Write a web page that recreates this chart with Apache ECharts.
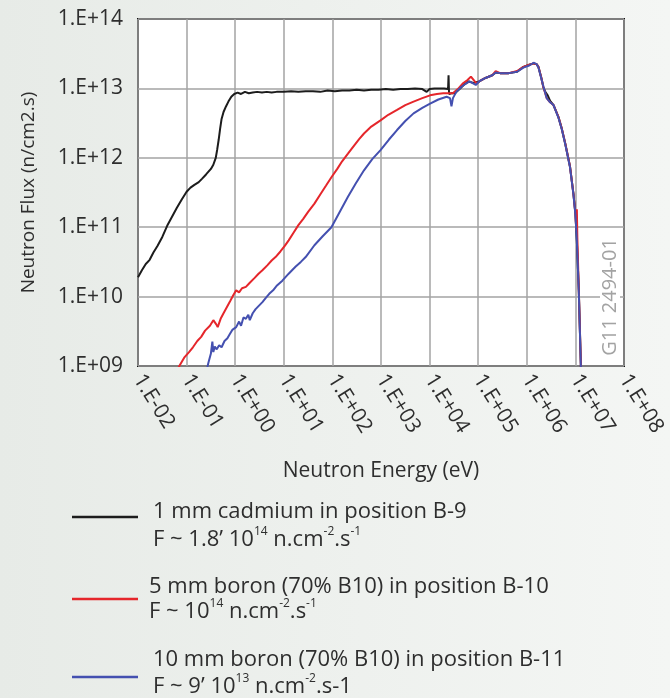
<!DOCTYPE html>
<html>
<head>
<meta charset="utf-8">
<script src="https://cdn.jsdelivr.net/npm/echarts@6/dist/echarts.min.js"></script>
<style>
  html, body { margin: 0; padding: 0; }
  body { width: 670px; height: 698px; background: linear-gradient(to right, #e7ebe7, #f4f6f4); }
  #chart { width: 670px; height: 698px; }
</style>
</head>
<body>
<div id="chart"></div>
<script>
// ---- Data (log10 of energy in eV, log10 of flux in n/cm2.s) ----
const xTickLabels = ['1.E-02','1.E-01','1.E+00','1.E+01','1.E+02','1.E+03','1.E+04','1.E+05','1.E+06','1.E+07','1.E+08'];
const yTickLabels = ['1.E+09','1.E+10','1.E+11','1.E+12','1.E+13','1.E+14'];
const seriesNames = ['1 mm cadmium in position B-9', '5 mm boron (70% B10) in position B-10', '10 mm boron (70% B10) in position B-11'];

const cadmiumLogE = [-2.00,-1.92,-1.84,-1.76,-1.68,-1.60,-1.50,-1.40,-1.30,-1.20,-1.10,-1.00,-0.92,-0.84,-0.75,-0.68,-0.60,-0.55,-0.50,-0.45,-0.40,-0.37,-0.34,-0.31,-0.28,-0.24,-0.19,-0.14,-0.08,-0.02,0.05,0.12,0.20,0.28,0.36,0.45,0.55,0.65,0.75,0.85,1.00,1.15,1.30,1.45,1.60,1.75,1.90,2.05,2.20,2.35,2.50,2.65,2.80,2.95,3.10,3.25,3.40,3.55,3.70,3.85,3.94,4.00,4.10,4.20,4.30,4.38,4.39,4.40,4.45,4.52,4.60,4.70,4.80,4.90,5.02,5.15,5.29,5.36,5.45,5.63,5.80,5.93,6.05,6.14,6.20,6.24,6.30,6.34,6.38,6.43,6.48,6.55,6.65,6.72,6.79,6.89,6.96,7.00,7.03,7.07,7.11,7.13];
const cadmiumLogFlux = [10.28,10.38,10.47,10.53,10.64,10.73,10.86,11.02,11.15,11.28,11.40,11.51,11.57,11.61,11.65,11.70,11.76,11.80,11.84,11.90,12.00,12.12,12.26,12.42,12.56,12.66,12.74,12.81,12.88,12.92,12.94,12.92,12.95,12.93,12.94,12.95,12.94,12.95,12.94,12.95,12.95,12.96,12.95,12.96,12.96,12.95,12.97,12.96,12.97,12.97,12.98,12.97,12.98,12.98,12.99,12.98,12.99,12.99,13.00,12.99,12.95,12.99,13.00,13.00,13.00,12.99,13.19,12.92,12.93,12.93,12.98,13.05,13.10,13.08,13.10,13.15,13.19,13.23,13.22,13.22,13.24,13.31,13.34,13.36,13.35,13.31,13.15,13.02,12.95,12.90,12.82,12.76,12.59,12.42,12.21,11.87,11.48,11.20,10.81,10.09,9.08,8.60];

const boron5LogE = [-1.25,-1.15,-1.05,-0.95,-0.87,-0.78,-0.70,-0.62,-0.52,-0.45,-0.42,-0.39,-0.36,-0.30,-0.24,-0.17,-0.10,-0.04,0.02,0.08,0.14,0.22,0.30,0.40,0.48,0.56,0.66,0.75,0.83,0.93,1.02,1.10,1.20,1.30,1.40,1.50,1.63,1.75,1.87,1.98,2.10,2.20,2.32,2.45,2.55,2.65,2.80,2.99,3.15,3.33,3.50,3.67,3.85,4.01,4.15,4.28,4.40,4.48,4.58,4.68,4.78,4.85,4.89,4.93,4.97,5.02,5.15,5.29,5.36,5.39,5.45,5.63,5.80,5.93,6.05,6.14,6.20,6.24,6.30,6.34,6.41,6.48,6.55,6.65,6.72,6.79,6.89,6.96,7.00,7.02,7.03,7.04,7.07,7.11,7.13];
const boron5LogFlux = [8.85,9.00,9.12,9.20,9.27,9.36,9.42,9.51,9.58,9.66,9.68,9.60,9.56,9.68,9.76,9.85,9.94,10.02,10.09,10.06,10.12,10.14,10.20,10.27,10.33,10.38,10.45,10.52,10.57,10.65,10.73,10.81,10.92,11.03,11.12,11.22,11.34,11.47,11.60,11.72,11.84,11.95,12.06,12.18,12.27,12.35,12.45,12.54,12.62,12.69,12.76,12.81,12.86,12.90,12.92,12.93,12.93,12.93,12.99,13.07,13.12,13.17,13.19,13.10,13.07,13.10,13.15,13.19,13.25,13.26,13.22,13.22,13.25,13.31,13.34,13.36,13.35,13.31,13.15,13.02,12.86,12.80,12.76,12.59,12.42,12.21,11.87,11.48,11.20,10.95,11.26,10.85,10.09,9.08,8.60];

const boron10LogE = [-0.62,-0.55,-0.50,-0.47,-0.45,-0.42,-0.38,-0.33,-0.28,-0.22,-0.16,-0.11,-0.06,0.02,0.08,0.12,0.17,0.22,0.27,0.30,0.36,0.42,0.49,0.56,0.63,0.70,0.78,0.86,0.97,1.10,1.24,1.35,1.45,1.63,1.80,1.98,2.15,2.32,2.48,2.65,2.82,2.99,3.16,3.33,3.50,3.67,3.85,4.01,4.18,4.35,4.42,4.45,4.48,4.55,4.65,4.75,4.82,4.95,5.02,5.15,5.29,5.36,5.45,5.63,5.80,5.93,6.05,6.14,6.20,6.24,6.30,6.34,6.41,6.48,6.55,6.65,6.72,6.79,6.89,6.96,7.00,7.03,7.07,7.11,7.13];
const boron10LogFlux = [8.85,9.05,9.18,9.35,9.20,9.28,9.24,9.30,9.27,9.36,9.40,9.46,9.52,9.56,9.64,9.58,9.70,9.68,9.74,9.66,9.76,9.82,9.87,9.92,9.98,10.04,10.09,10.16,10.23,10.33,10.43,10.50,10.57,10.74,10.87,11.00,11.22,11.44,11.63,11.82,11.98,12.11,12.26,12.40,12.53,12.64,12.72,12.78,12.84,12.88,12.86,12.74,12.86,12.95,13.02,13.07,13.10,13.05,13.10,13.15,13.19,13.23,13.22,13.22,13.24,13.30,13.33,13.37,13.35,13.30,13.14,13.03,12.86,12.80,12.76,12.58,12.41,12.20,11.86,11.47,11.18,10.80,10.07,9.05,8.55];

// ---- helpers ----
const toPairs = (le, lf) => le.map((e, i) => [Math.pow(10, e), Math.pow(10, lf[i])]);
const decade = v => Math.round(Math.log10(v));

const FONT = "'Open Sans', 'Noto Sans', sans-serif";
const TXT = '#2e2e2e';
const colors = ['#1c1c1c', '#e5262b', '#4450b0'];

const chart = echarts.init(document.getElementById('chart'), null, { renderer: 'canvas' });

const supRich = {
  t: { fontSize: 22, lineHeight: 28, fontFamily: FONT, color: TXT },
  s: { fontSize: 12, lineHeight: 12, fontFamily: FONT, color: TXT, verticalAlign: 'top' }
};

function legendLine(y, color) {
  return { type: 'line', shape: { x1: 72, y1: y, x2: 138, y2: y }, style: { stroke: color, lineWidth: 2.5 }, silent: true };
}
function legendText(x, y, text, rich) {
  return { type: 'text', x: x, y: y, silent: true,
    style: { text: text, rich: rich, font: '22px ' + FONT, fill: TXT, align: 'left', verticalAlign: 'middle' } };
}

chart.setOption({
  backgroundColor: 'transparent',
  animation: false,
  textStyle: { fontFamily: FONT },
  grid: { left: 138, right: 46, top: 19, bottom: 332, show: true, backgroundColor: '#ffffff', borderColor: '#111', borderWidth: 2 },
  xAxis: {
    type: 'log', logBase: 10, min: 0.01, max: 1e8, interval: 1,
    name: 'Neutron Energy (eV)', nameLocation: 'middle', nameGap: 95,
    nameTextStyle: { fontSize: 21, color: TXT, fontFamily: FONT },
    axisLine: { show: false }, axisTick: { show: false },
    minorTick: { show: false }, minorSplitLine: { show: false },
    splitLine: { show: true, lineStyle: { color: '#a3a3a3', width: 1.5 } },
    axisLabel: { rotate: -58, margin: 10, fontSize: 21, color: TXT, fontFamily: FONT,
      showMinLabel: true, showMaxLabel: true,
      formatter: v => xTickLabels[decade(v) + 2] }
  },
  yAxis: {
    type: 'log', logBase: 10, min: 1e9, max: 1e14, interval: 1,
    name: 'Neutron Flux (n/cm2.s)', nameLocation: 'middle', nameGap: 100,
    nameTextStyle: { fontSize: 19, color: TXT, fontFamily: FONT },
    axisLine: { show: false }, axisTick: { show: false },
    minorTick: { show: false }, minorSplitLine: { show: false },
    splitLine: { show: true, lineStyle: { color: '#a3a3a3', width: 1.5 } },
    axisLabel: { margin: 15, fontSize: 21, color: TXT, fontFamily: FONT,
      showMinLabel: true, showMaxLabel: true,
      formatter: v => yTickLabels[decade(v) - 9] }
  },
  series: [
    { name: seriesNames[0], type: 'line', data: toPairs(cadmiumLogE, cadmiumLogFlux), showSymbol: false, symbol: 'none', clip: true, z: 2,
      lineStyle: { color: colors[0], width: 2 } },
    { name: seriesNames[1], type: 'line', data: toPairs(boron5LogE, boron5LogFlux), showSymbol: false, symbol: 'none', clip: true, z: 3,
      lineStyle: { color: colors[1], width: 2 } },
    { name: seriesNames[2], type: 'line', data: toPairs(boron10LogE, boron10LogFlux), showSymbol: false, symbol: 'none', clip: true, z: 4,
      lineStyle: { color: colors[2], width: 2 } }
  ],
  graphic: [
    { type: 'text', x: 610, y: 297, rotation: Math.PI / 2, silent: true, z: 10,
      style: { text: 'G11 2494-01', font: '20px ' + FONT, fill: '#a3a3a3', align: 'center', verticalAlign: 'middle',
        backgroundColor: '#ffffff', padding: [0, 4] } },
    legendLine(517, colors[0]),
    legendText(153, 512, seriesNames[0]),
    legendText(153, 540, '{t|F ~ 1.8\u2019 10}{s|14}{t| n.cm}{s|-2}{t|.s}{s|-1}', supRich),
    legendLine(599, colors[1]),
    legendText(149, 587, seriesNames[1]),
    legendText(149, 612, '{t|F ~ 10}{s|14}{t| n.cm}{s|-2}{t|.s}{s|-1}', supRich),
    legendLine(677, colors[2]),
    legendText(153, 660, seriesNames[2]),
    legendText(153, 687, '{t|F ~ 9\u2019 10}{s|13}{t| n.cm}{s|-2}{t|.s-1}', supRich)
  ]
});
</script>
</body>
</html>
